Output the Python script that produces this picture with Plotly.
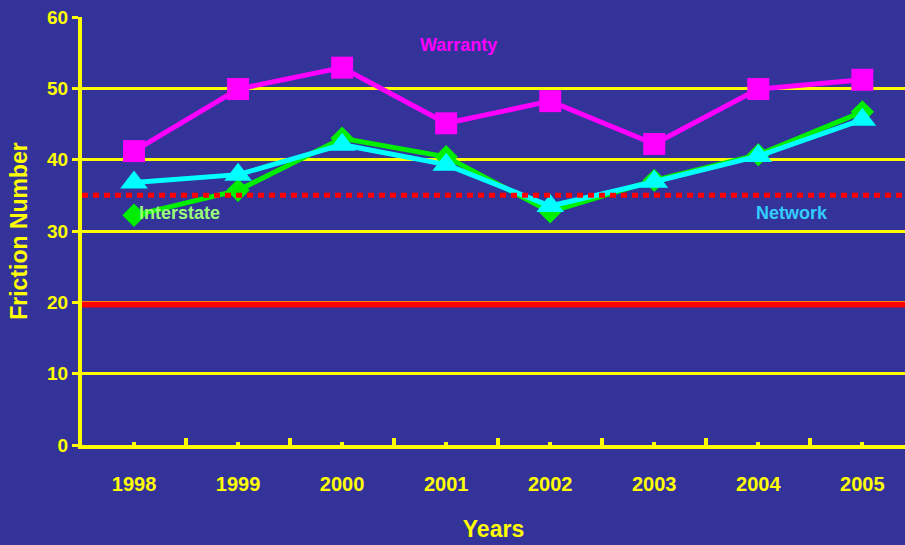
import plotly.graph_objects as go

# Friction numbers by year for the three road sections
years = [1998, 1999, 2000, 2001, 2002, 2003, 2004, 2005]
warranty = [41.2, 49.9, 52.9, 45.1, 48.2, 42.2, 49.9, 51.2]
interstate = [32.2, 35.7, 43.0, 40.4, 32.7, 37.1, 40.7, 46.7]
network = [36.8, 37.9, 42.1, 39.3, 33.5, 36.9, 40.5, 45.6]

# Reference thresholds
investigatory_level = 35.0
minimum_level = 19.7

y_ticks = [0, 10, 20, 30, 40, 50, 60]

BG = "#333399"
YELLOW = "#ffff00"
FONT = "Liberation Sans, Arial, sans-serif"

fig = go.Figure()

fig.add_trace(go.Scatter(
    x=years, y=interstate, mode="lines+markers", name="Interstate",
    line=dict(color="#00ee00", width=5),
    marker=dict(symbol="diamond", size=18, color="#00ee00"),
))
fig.add_trace(go.Scatter(
    x=years, y=network, mode="lines+markers", name="Network",
    line=dict(color="#00ffff", width=5),
    marker=dict(symbol="triangle-up", size=24, color="#00ffff"),
))
fig.add_trace(go.Scatter(
    x=years, y=warranty, mode="lines+markers", name="Warranty",
    line=dict(color="#ff00ff", width=5),
    marker=dict(symbol="square", size=22, color="#ff00ff"),
))

# Threshold lines across the full plot width
fig.add_shape(type="line", xref="paper", x0=0, x1=1, yref="y",
              y0=investigatory_level, y1=investigatory_level,
              line=dict(color="#ff0000", width=5, dash="6px,5px"), layer="above")
fig.add_shape(type="line", xref="paper", x0=0, x1=1, yref="y",
              y0=minimum_level, y1=minimum_level,
              line=dict(color="#ff0000", width=6), layer="above")

# Series labels
label_font = dict(family=FONT, size=18, weight="bold")
fig.add_annotation(x=2001.12, y=56.1, text="Warranty", showarrow=False,
                   font=dict(color="#ff00ff", **label_font))
fig.add_annotation(x=1998.44, y=32.5, text="Interstate", showarrow=False,
                   font=dict(color="#99ff77", **label_font))
fig.add_annotation(x=2004.32, y=32.5, text="Network", showarrow=False,
                   font=dict(color="#33ccff", **label_font))

fig.update_layout(
    width=905, height=545,
    margin=dict(l=82, r=0, t=17, b=100),
    paper_bgcolor=BG, plot_bgcolor=BG,
    showlegend=False,
    xaxis=dict(
        range=[1997.5, 2005.41],
        tickmode="array", tickvals=years, ticktext=[str(y) for y in years],
        ticks="inside", ticklen=3, tickwidth=4, tickcolor=YELLOW,
        minor=dict(ticks="inside", ticklen=7, tickwidth=4, tickcolor=YELLOW,
                   tick0=1997.5, dtick=1),
        ticklabelstandoff=18,
        tickfont=dict(family=FONT, size=20, color=YELLOW, weight="bold"),
        showgrid=False, zeroline=False,
        showline=True, linecolor=YELLOW, linewidth=4,
        title=dict(text="Years", standoff=28,
                   font=dict(family=FONT, size=23, color=YELLOW, weight="bold")),
    ),
    yaxis=dict(
        range=[0, 60],
        tickmode="array", tickvals=y_ticks,
        ticks="outside", ticklen=6, tickwidth=3, tickcolor=YELLOW,
        tickfont=dict(family=FONT, size=19, color=YELLOW, weight="bold"),
        showgrid=True, gridcolor=YELLOW, gridwidth=3,
        zeroline=False,
        showline=True, linecolor=YELLOW, linewidth=4,
        title=dict(text="Friction Number", standoff=14,
                   font=dict(family=FONT, size=23, color=YELLOW, weight="bold")),
    ),
)

fig.write_html("out.html")
